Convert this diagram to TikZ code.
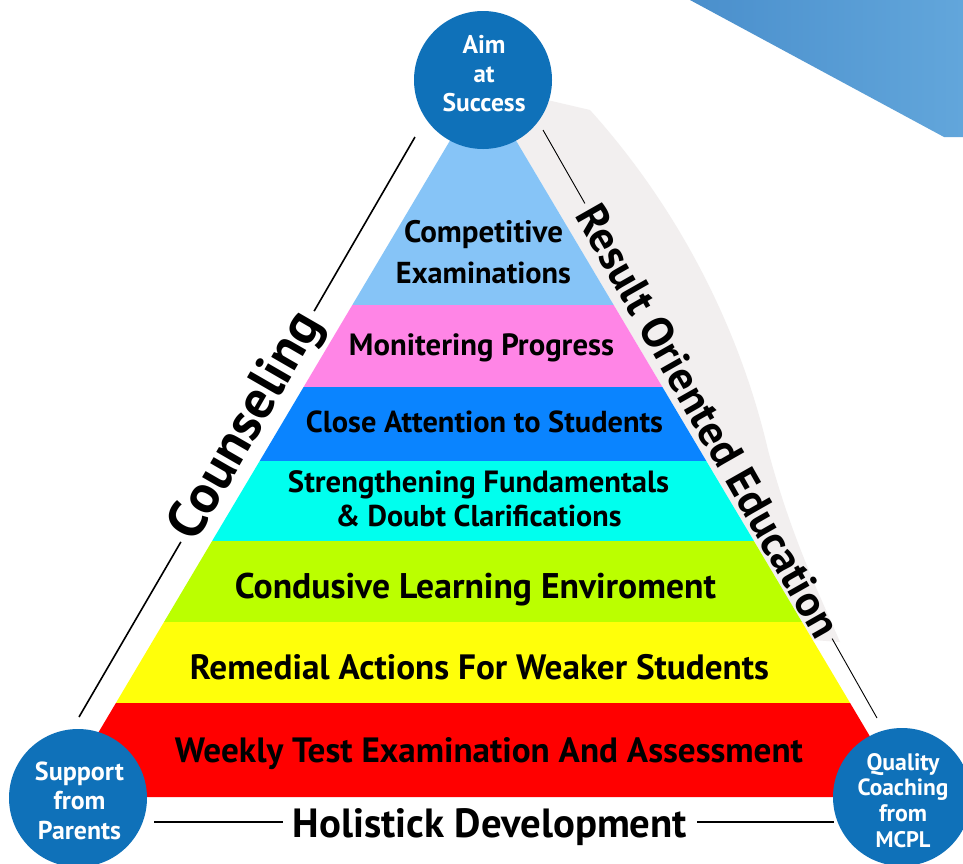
\documentclass[tikz,border=0pt]{standalone}
\usepackage{fontspec}
\setmainfont{PT Sans}
\usepackage{graphicx}
\definecolor{circblue}{HTML}{0F71B9}
\definecolor{cornerL}{HTML}{4A8FCC}
\definecolor{cornerR}{HTML}{62A6DB}
\definecolor{shadowgray}{HTML}{F2EFEF}
\definecolor{bandA}{HTML}{86C4F7}
\definecolor{bandB}{HTML}{FF85E6}
\definecolor{bandC}{HTML}{0A84FF}
\definecolor{bandD}{HTML}{00FFEE}
\definecolor{bandE}{HTML}{BBFF00}
\definecolor{bandF}{HTML}{FFFF0A}
\definecolor{bandG}{HTML}{FF0000}
\newcommand\fitw[2]{\resizebox{#1pt}{!}{#2}}
\begin{document}
\begin{tikzpicture}[x=1pt,y=-1pt,
  lbl/.style={font=\bfseries, text=black, inner sep=0pt, align=center},
  circ/.style={circle, fill=circblue, draw=none, minimum size=138pt, inner sep=0pt},
  circtext/.style={font=\bfseries, text=white, inner sep=0pt, align=center},
  side/.style={font=\bfseries, text=black, inner ysep=0pt},
  thickconn/.style={draw=black, line width=1.6pt},
  thinconn/.style={draw=black, line width=0.9pt}
]
\useasboundingbox (0,0) rectangle (963,863);
\fill[white] (0,0) rectangle (963,863);
% decorative corner and soft shadow
\shade[left color=cornerL, right color=cornerR] (690,0) -- (963,0) -- (963,137) -- (944,137) -- cycle;
\fill[shadowgray] (483,85) -- (590,110) .. controls (680,210) and (740,330) .. (768,450)
  .. controls (792,540) and (822,600) .. (840,642) -- (813,640) -- cycle;
% pyramid bands
\coordinate (apex) at (483,85);
\coordinate (aL) at (352.3,305) ; \coordinate (aR) at (613.7,305);
\coordinate (bL) at (303.6,387) ; \coordinate (bR) at (662.4,387);
\coordinate (cL) at (259.7,461) ; \coordinate (cR) at (706.3,461);
\coordinate (dL) at (212.1,541) ; \coordinate (dR) at (753.9,541);
\coordinate (eL) at (164.0,622) ; \coordinate (eR) at (802.0,622);
\coordinate (fL) at (115.9,703) ; \coordinate (fR) at (850.1,703);
\coordinate (gL) at (60.1,797)  ; \coordinate (gR) at (905.9,797);
\fill[bandA] (apex) -- (aR) -- (aL) -- cycle;
\fill[bandB] (aL) -- (aR) -- (bR) -- (bL) -- cycle;
\fill[bandC] (bL) -- (bR) -- (cR) -- (cL) -- cycle;
\fill[bandD] (cL) -- (cR) -- (dR) -- (dL) -- cycle;
\fill[bandE] (dL) -- (dR) -- (eR) -- (eL) -- cycle;
\fill[bandF] (eL) -- (eR) -- (fR) -- (fL) -- cycle;
\fill[bandG] (fL) -- (fR) -- (gR) -- (gL) -- cycle;
% band labels
\node[lbl, font=\bfseries\fontsize{27}{41}\selectfont] (t1) at (483.5,252.5)
  {\fitw{159}{Competitive}\\\fitw{175}{Examinations}};
\node[lbl, anchor=base] (t2) at (481.5,355) {\fitw{265}{Monitering Progress}};
\node[lbl, anchor=base] (t3) at (484.5,432) {\fitw{357}{Close Attention to Students}};
\node[lbl, font=\bfseries\fontsize{24}{34}\selectfont] (t4) at (478.5,499)
  {\fitw{381}{Strengthening Fundamentals}\\\fitw{286}{\& Doubt Clarifications}};
\node[lbl, anchor=base] (t5) at (475.5,598) {\fitw{481}{Condusive Learning Enviroment}};
\node[lbl, anchor=base] (t6) at (479.5,679) {\fitw{579}{Remedial Actions For Weaker Students}};
\node[lbl, anchor=base] (t7) at (489,762) {\fitw{628}{Weekly Test Examination And Assessment}};
% circles
\node[circ] (aim) at (483,80) {};
\node[circ] (sup) at (78,798) {};
\node[circ] (qual) at (902,797) {};
\node[circtext, font=\bfseries\fontsize{20}{29}\selectfont] (aimt) at (484,74)
  {\fitw{43}{Aim}\\\fitw{21}{at}\\\fitw{83}{Success}};
\node[circtext, font=\bfseries\fontsize{21}{29.5}\selectfont] (supt) at (79.5,800.5)
  {\fitw{89}{Support}\\\fitw{52}{from}\\\fitw{83}{Parents}};
\node[circtext, font=\bfseries\fontsize{19}{25.7}\selectfont] (qualt) at (903,800.5)
  {\fitw{73}{Quality}\\\fitw{91}{Coaching}\\\fitw{48}{from}\\\fitw{55}{MCPL}};
% side labels and connectors
\node[side, rotate=60, inner xsep=6pt] (couns) at (247.5,426.5) {\fitw{254}{Counseling}};
\node[side, rotate=-60.4, inner xsep=5pt] (roe) at (708.5,421) {\fitw{490}{Result Oriented Education}};
\node[lbl, anchor=base, inner xsep=10pt] (holi) at (490,837) {\fitw{394}{Holistick Development}};
\coordinate (ltop) at (415,137);
\coordinate (lbot) at (79,717);
\coordinate (rtop) at (543,130);
\coordinate (rbot) at (877,718);
\coordinate (hl) at (154,822);
\coordinate (hr) at (834,822);
\draw[thickconn] (ltop) -- (couns.east);
\draw[thickconn] (couns.west) -- (lbot);
\draw[thinconn] (rtop) -- (roe.west);
\draw[thinconn] (roe.east) -- (rbot);
\draw[thickconn] (hl) -- (holi.west |- hl);
\draw[thickconn] (holi.east |- hr) -- (hr);
\end{tikzpicture}
\end{document}
